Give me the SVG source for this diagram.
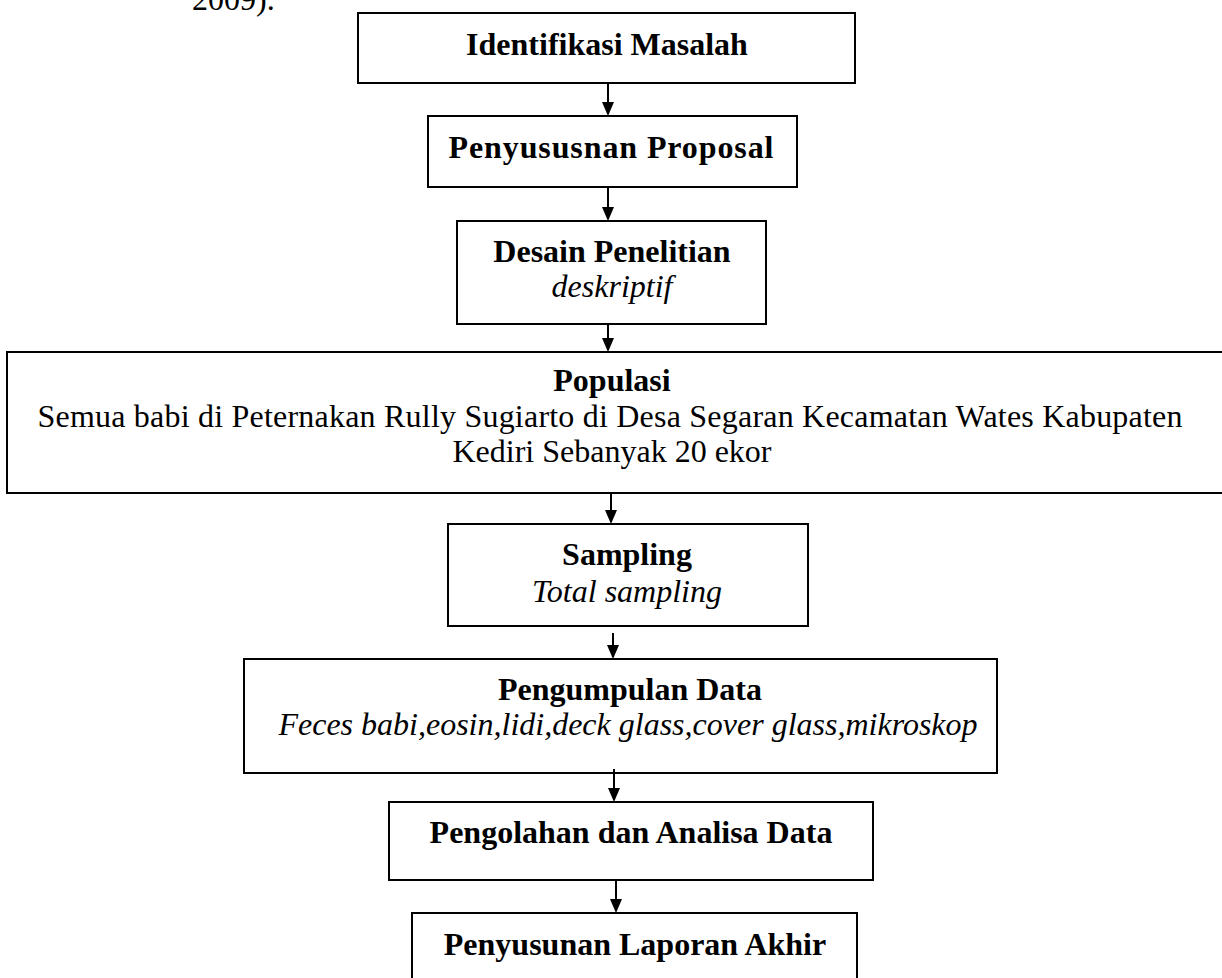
<svg xmlns="http://www.w3.org/2000/svg" width="1222" height="978" viewBox="0 0 1222 978">
<style>
.box{fill:#fff;stroke:#000;stroke-width:2}
.t{font-family:"Liberation Serif","Times New Roman",serif;font-size:32px;fill:#000;text-anchor:middle}
.b{font-weight:bold}
.i{font-style:italic}
.c{stroke:#000;stroke-width:2;fill:none}
</style>
<rect width="1222" height="978" fill="#fff"/>
<text x="192" y="10" style="font-family:'Liberation Serif',serif;font-size:32px">2009).</text>
<g id="n1"><rect class="box" x="358" y="13" width="497" height="70"/><text class="t b" x="607" y="55">Identifikasi Masalah</text></g>
<g id="n2"><rect class="box" x="428" y="116" width="369" height="71"/><text class="t b" x="611" y="158" textLength="325" lengthAdjust="spacing">Penyususnan Proposal</text></g>
<g id="n3"><rect class="box" x="457" y="221" width="309" height="103"/><text class="t b" x="612" y="262">Desain Penelitian</text><text class="t i" x="612" y="297">deskriptif</text></g>
<g id="n4"><rect class="box" x="7" y="352" width="1230" height="141"/><text class="t b" x="612" y="391">Populasi</text><text class="t" x="610" y="427" textLength="1145" lengthAdjust="spacing">Semua babi di Peternakan Rully Sugiarto di Desa Segaran Kecamatan Wates Kabupaten</text><text class="t" x="612" y="462">Kediri Sebanyak 20 ekor</text></g>
<g id="n5"><rect class="box" x="448" y="524" width="360" height="102"/><text class="t b" x="627" y="565">Sampling</text><text class="t i" x="627" y="602">Total sampling</text></g>
<g id="n6"><rect class="box" x="244" y="659" width="753" height="114"/><text class="t b" x="630" y="700">Pengumpulan Data</text><text class="t i" x="628" y="735">Feces babi,eosin,lidi,deck glass,cover glass,mikroskop</text></g>
<g id="n7"><rect class="box" x="389" y="802" width="484" height="78"/><text class="t b" x="631" y="843">Pengolahan dan Analisa Data</text></g>
<g id="n8"><rect class="box" x="412" y="913" width="445" height="80"/><text class="t b" x="635" y="955">Penyusunan Laporan Akhir</text></g>
<g id="connectors">
<line class="c" x1="608" y1="83" x2="608" y2="103"/><path d="M602,102 L614,102 L608,116 Z"/>
<line class="c" x1="608" y1="187" x2="608" y2="208"/><path d="M602,207 L614,207 L608,221 Z"/>
<line class="c" x1="608" y1="324" x2="608" y2="339"/><path d="M602,338 L614,338 L608,352 Z"/>
<line class="c" x1="611" y1="493" x2="611" y2="511"/><path d="M605,510 L617,510 L611,524 Z"/>
<line class="c" x1="613" y1="633" x2="613" y2="646"/><path d="M607,645 L619,645 L613,659 Z"/>
<line class="c" x1="614" y1="769" x2="614" y2="789"/><path d="M608,788 L620,788 L614,802 Z"/>
<line class="c" x1="616" y1="880" x2="616" y2="900"/><path d="M610,899 L622,899 L616,913 Z"/>
</g>
</svg>
